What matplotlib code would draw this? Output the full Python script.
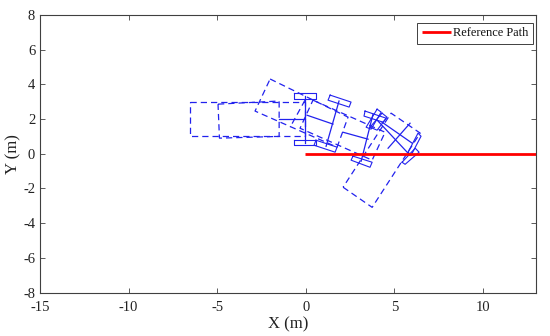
import matplotlib
matplotlib.use("Agg")
import matplotlib.pyplot as plt

plt.rcParams['font.family'] = ['Liberation Serif', 'DejaVu Serif']
plt.rcParams['axes.unicode_minus'] = False

path_x = [-0.05, 13]
path_y = [0, 0]
x_ticks = [-15, -10, -5, 0, 5, 10]
y_ticks = [-8, -6, -4, -2, 0, 2, 4, 6, 8]

# dashed vehicle bodies (x, y in metres)
body_a = [(-6.53, 3.0), (-0.04, 3.0), (-0.04, 1.0), (-6.53, 1.0)]
body_b = [(-4.95, 2.86), (-1.5, 3.04), (-1.5, 1.0), (-4.87, 0.9)]
body_c = [(-2.01, 4.31), (2.39, 2.11), (1.77, 0.38), (-2.86, 2.46)]
body_d = [(0.41, 3.09), (4.48, 1.24), (3.75, -0.37), (-0.32, 1.47)]
body_e = [(2.11, -1.93), (3.75, -3.09), (6.46, 1.19), (4.82, 2.34)]
bodies = [body_a, body_b, body_c, body_d, body_e]
divider_x = [-0.04, -0.88]
divider_y = [3.09, 1.53]

# solid chassis lines: (x0, x1, y0, y1)
chassis_1 = [(-1.5, -0.04, 1.98, 1.98), (-0.04, -0.04, 3.32, 0.62)]
chassis_2 = [(0.08, 1.54, 2.22, 1.71), (1.88, 1.15, 3.04, 0.43)]
chassis_3 = [(2.11, 3.52, 1.24, 0.84), (3.80, 3.13, 2.28, -0.43)]
chassis_4 = [(4.03, 5.89, 1.94, -0.09), (4.31, 6.01, 1.82, 0.61), (5.89, 4.65, 1.76, 0.32)]
chassis = chassis_1 + chassis_2 + chassis_3 + chassis_4

# wheels
wheels = [
    [(-0.65, 3.5), (0.58, 3.5), (0.58, 3.15), (-0.65, 3.15)],
    [(-0.65, 0.78), (0.58, 0.78), (0.58, 0.49), (-0.65, 0.49)],
    [(1.38, 3.38), (2.56, 2.98), (2.45, 2.69), (1.26, 3.09)],
    [(0.58, 0.78), (1.77, 0.38), (1.66, 0.09), (0.47, 0.49)],
    [(3.35, 2.46), (4.54, 2.05), (4.37, 1.82), (3.29, 2.17)],
    [(2.67, -0.14), (3.75, -0.49), (3.63, -0.78), (2.56, -0.37)],
    [(4.03, 2.57), (4.26, 2.40), (3.69, 1.42), (3.41, 1.53)],
    [(4.31, 2.34), (4.59, 2.11), (4.03, 1.36), (3.63, 1.53)],
    [(5.44, -0.49), (6.18, 0.32), (6.40, 0.09), (5.61, -0.61)],
    [(5.78, 0.09), (6.34, 1.19), (6.51, 1.01), (5.95, -0.09)],
]

BLUE = '#2222ee'
fig = plt.figure(figsize=(5.5, 3.36), dpi=100)
ax = fig.add_axes([40 / 550, 1 - 292.5 / 336, 496 / 550, 277.5 / 336])

for body in bodies:
    xs, ys = zip(*(body + body[:1]))
    ax.plot(xs, ys, color=BLUE, lw=0.9, dashes=(5, 3.2))
ax.plot(divider_x, divider_y, color=BLUE, lw=0.9, dashes=(5, 3.2))
for x0, x1, y0, y1 in chassis:
    ax.plot([x0, x1], [y0, y1], color=BLUE, lw=0.9)
for wheel in wheels:
    xs, ys = zip(*(wheel + wheel[:1]))
    ax.plot(xs, ys, color=BLUE, lw=0.8)

ax.plot(path_x, path_y, color='#ff0000', lw=2, label='Reference Path', solid_capstyle='butt')

ax.set_xlim(-15, 13)
ax.set_ylim(-8, 8)
ax.set_xticks(x_ticks)
ax.set_yticks(y_ticks)
ax.tick_params(direction='in', top=True, right=True, length=3.5, width=0.6,
               color='#404040', labelsize=10.5, labelcolor='#222222')
ax.tick_params(axis='x', pad=6)
ax.tick_params(axis='y', pad=3.5)
for s in ax.spines.values():
    s.set_color('#404040')
    s.set_linewidth(0.8)
ax.set_xlabel('X (m)', fontsize=12, color='#222222', labelpad=2)
ax.set_ylabel('Y (m)', fontsize=12, color='#222222', labelpad=1)
leg = ax.legend(loc='upper right', fontsize=8.9, fancybox=False, edgecolor='#404040', framealpha=1,
                borderaxespad=0, bbox_to_anchor=(493 / 496, 1 - 8 / 277.5), borderpad=0.35,
                handlelength=2.35, handletextpad=0.2, labelcolor='#111111')
leg.get_frame().set_linewidth(0.7)

fig.savefig('out.png', dpi=100)
